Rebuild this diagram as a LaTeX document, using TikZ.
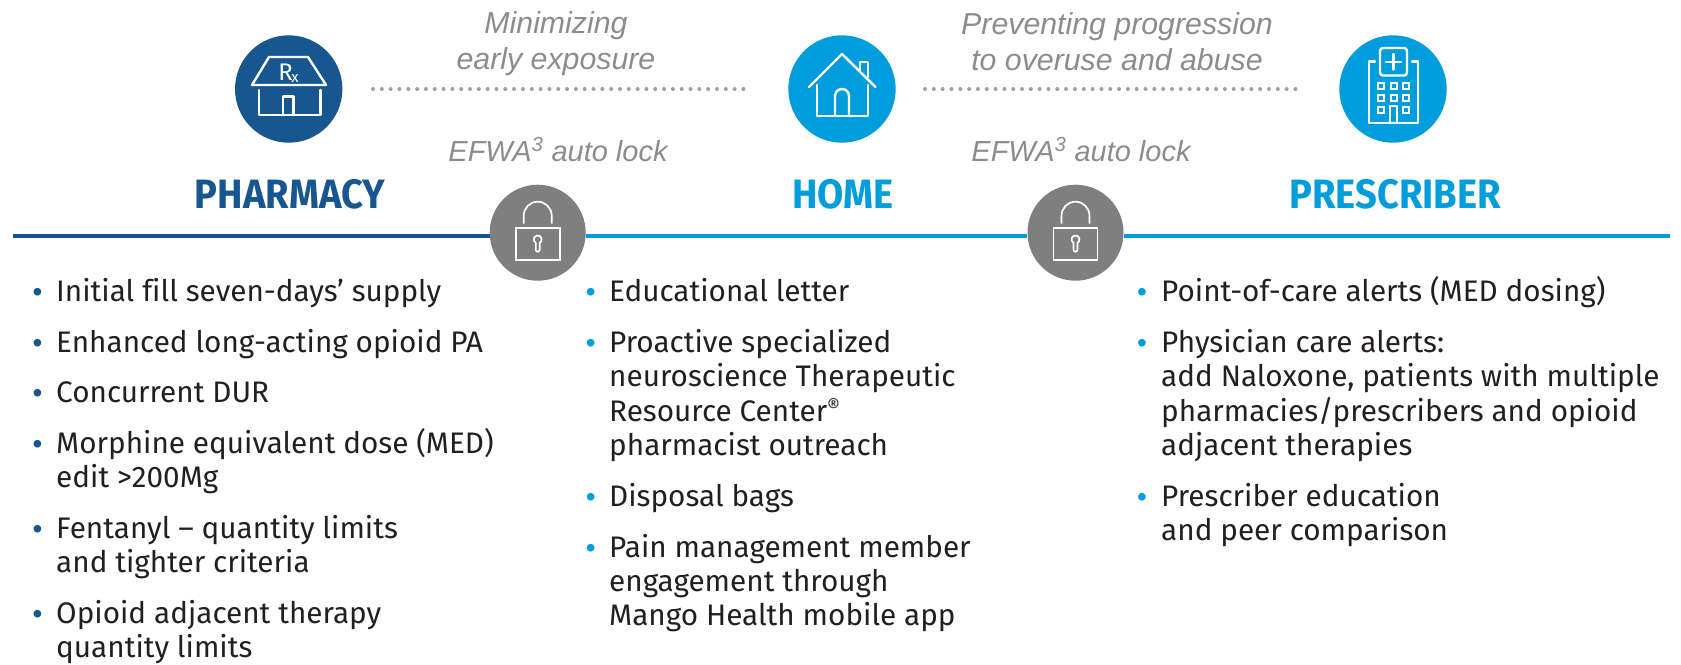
\documentclass[tikz,border=0pt]{standalone}
\usepackage{fontspec}
\setmainfont[Ligatures=NoCommon]{Fira Sans}
\newfontfamily\ariafont{Liberation Sans}
\newfontfamily\headfont[FakeStretch=0.93]{Fira Sans Bold}
\definecolor{navy}{HTML}{17568F}
\definecolor{sky}{HTML}{009DDC}
\definecolor{lockgrey}{HTML}{7F7F7F}
\definecolor{dotgrey}{HTML}{A0A0A0}
\definecolor{capgrey}{HTML}{8C8C8C}
\definecolor{ink}{HTML}{231F20}
\tikzset{
 x=1pt,y=-1pt,
 disc/.style={circle,inner sep=0pt,minimum size=107.4pt},
 lockdisc/.style={circle,inner sep=0pt,minimum size=96pt,fill=lockgrey},
 icor/.style={draw=white,line width=2.4pt,line cap=round,line join=round},
 locklin/.style={draw=white,line width=1.7pt},
 win/.style={draw=white,line width=2pt},
 caption/.style={font=\ariafont\itshape\fontsize{30.3}{35.4}\selectfont,text=capgrey,align=center,inner sep=0pt},
 efwa/.style={font=\ariafont\itshape\fontsize{29}{35}\selectfont,text=capgrey,anchor=base,inner sep=0pt},
 heading/.style={font=\headfont\fontsize{41}{44}\selectfont,anchor=base,inner sep=0pt},
 rule/.style={line width=3.6pt},
 dots/.style={draw=dotgrey,line width=4pt,line cap=round,dash pattern=on 0pt off 8.82pt},
 item/.style={font=\fontsize{29.7}{34.5}\selectfont,text=ink,anchor=base west,inner sep=0pt},
 bul/.style={font=\ariafont\fontsize{28}{34.5}\selectfont,anchor=base west,inner sep=0pt},
}
\begin{document}
\begin{tikzpicture}
\useasboundingbox (0,0) rectangle (1681,664);
% rule
\coordinate (ruleA) at (13,236);
\coordinate (ruleB) at (1670,236);
\node[lockdisc] (lockA) at (537.7,232.7) {};
\node[lockdisc] (lockB) at (1075.5,232.7) {};
\draw[rule,navy] (ruleA) -- (lockA.west |- ruleA);
\draw[rule,sky] (lockA.east |- ruleA) -- (lockB.west |- ruleA);
\draw[rule,sky] (lockB.east |- ruleA) -- (ruleB);
% discs
\node[disc,fill=navy] (pharm) at (288.7,89) {};
\node[disc,fill=sky] (home) at (842,89) {};
\node[disc,fill=sky] (presc) at (1393,89) {};
% dotted
\coordinate (d1) at (373,89); \coordinate (d2) at (745,89);
\coordinate (d3) at (925,89); \coordinate (d4) at (1296,89);
\draw[dots] (d1) -- (d2);
\draw[dots] (d3) -- (d4);
% pharmacy icon
\begin{scope}[shift={(220,30)}]
\draw[icor] (32,55) -- (49,27) -- (88,27) -- (106,55) -- cycle;
\draw[icor] (39,60) -- (39,85) -- (100.5,85) -- (100.5,60);
\draw[icor] (63,85) -- (63,66.5) -- (73.5,66.5) -- (73.5,85);
\node[font=\fontsize{24}{24}\selectfont,text=white,inner sep=0pt] (rx) at (68.5,43) {R\kern-1.5pt\raisebox{-2pt}{\fontsize{15}{15}\selectfont x}};
\end{scope}
% home icon
\begin{scope}[shift={(760,30)}]
\draw[icor] (49,57) -- (82,24) -- (115.5,57);
\draw[icor] (57,55) -- (57,86) -- (108,86) -- (108,55);
\draw[icor] (75,85) -- (75,66) arc (180:360:7) -- (89,85);
\draw[icor] (100,40) -- (100,32) -- (108,32) -- (108,47);
\end{scope}
% hospital icon
\begin{scope}[shift={(1320,30)}]
\draw[icor,rounded corners=3pt] (60,18) rectangle (87,45.5);
\draw[icor] (73.5,24) -- (73.5,39.5);
\draw[icor] (66,31.7) -- (81,31.7);
\draw[icor] (55,31.5) -- (49,31.5) -- (49,93) -- (98,93) -- (98,31.5) -- (92,31.5);
\foreach \xx in {61,73.5,86}{\foreach \yy in {56,68}{
 \draw[win] (\xx-3,\yy-3) rectangle (\xx+3,\yy+3);}}
\draw[win] (58,77) rectangle (64,83);
\draw[win] (83,77) rectangle (89,83);
\draw[icor] (70,92) -- (70,76) -- (77,76) -- (77,92);
\end{scope}
% locks
\foreach \n in {lockA,lockB}{
\begin{scope}[shift={(\n.center)}]
\draw[locklin] (-22,-5) rectangle (22,27);
\draw[locklin] (-14,-9) -- (-14,-17) arc (180:360:14) -- (14,-9);
\draw[locklin] (-2,17) -- (-2,10.2) arc (120:420:4) -- (2,17) arc (0:180:2) -- cycle;
\end{scope}}
% captions
\node[caption] (cap1) at (556,43.5) {Minimizing\\early exposure};
\node[caption] (cap2) at (1117,41.5) {Preventing progression\\to overuse and abuse};
\node[efwa] (cap3) at (558,161) {EFWA\textsuperscript{3} auto lock};
\node[efwa] (cap4) at (1081,161) {EFWA\textsuperscript{3} auto lock};
% headings
\node[heading,text=navy] (h1) at (290,208) {PHARMACY};
\node[heading,text=sky] (h2) at (843,208) {HOME};
\node[heading,text=sky] (h3) at (1395,208) {PRESCRIBER};
% column 1
\foreach \nm/\yy/\tx in {a1/301.7/Initial fill seven-days’ supply,a2/352/Enhanced long-acting opioid PA,a3/402.5/Concurrent DUR,a4/453/Morphine equivalent dose (MED),a5/487.3/edit >200Mg,a6/538/Fentanyl – quantity limits,a7/572/and tighter criteria,a8/623/Opioid adjacent therapy,a9/657/quantity limits}{
\node[item] (\nm) at (56,\yy) {\tx};}
\foreach \nm/\yy in {ba1/301.7,ba2/352,ba3/402.5,ba4/453,ba5/538,ba6/623}{
\node[bul,text=navy] (\nm) at (32.3,\yy) {•};}
% column 2
\foreach \nm/\yy/\tx in {c1/301.7/Educational letter,c2/352/Proactive specialized,c3/386.7/neuroscience Therapeutic,c4/421/{Resource Center\raisebox{8pt}{\fontsize{20}{20}\selectfont ®}},c5/455/pharmacist outreach,c6/506.7/Disposal bags,c7/557/Pain management member,c8/591/engagement through,c9/625.5/Mango Health mobile app}{
\node[item] (\nm) at (609,\yy) {\tx};}
\foreach \nm/\yy in {bc1/301.7,bc2/352,bc3/506.7,bc4/557}{
\node[bul,text=sky] (\nm) at (585.7,\yy) {•};}
% column 3
\foreach \nm/\yy/\tx in {e1/301.7/Point-of-care alerts (MED dosing),e2/352/Physician care alerts:,e3/386.7/{add Naloxone, patients with multiple},e4/421/{pharmacies/prescribers and opioid},e5/455/adjacent therapies,e6/506.7/Prescriber education,e7/540.7/and peer comparison}{
\node[item] (\nm) at (1161,\yy) {\tx};}
\foreach \nm/\yy in {be1/301.7,be2/352,be3/506.7}{
\node[bul,text=sky] (\nm) at (1137,\yy) {•};}
\end{tikzpicture}
\end{document}
